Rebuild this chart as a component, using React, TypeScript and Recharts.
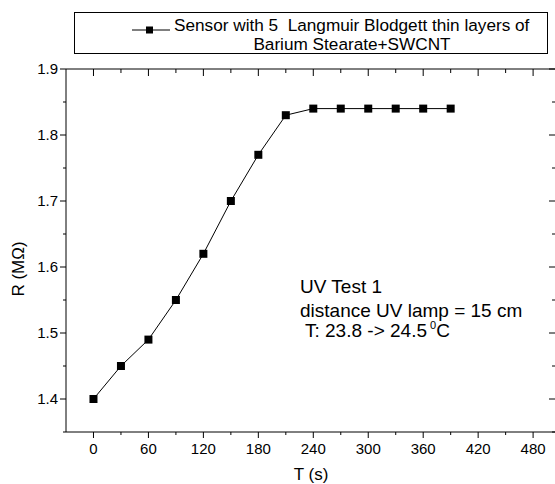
import { LineChart, Line, XAxis, YAxis, Legend, Customized } from 'recharts';

const timeS = [0, 30, 60, 90, 120, 150, 180, 210, 240, 270, 300, 330, 360, 390];
const resistanceM = [1.4, 1.45, 1.49, 1.55, 1.62, 1.7, 1.77, 1.83, 1.84, 1.84, 1.84, 1.84, 1.84, 1.84];
const xTicks = [0, 30, 60, 90, 120, 150, 180, 210, 240, 270, 300, 330, 360, 390, 420, 450, 480];
const yTicks = [1.35, 1.4, 1.45, 1.5, 1.55, 1.6, 1.65, 1.7, 1.75, 1.8, 1.85, 1.9];
const seriesName = 'Sensor with 5  Langmuir Blodgett thin layers of';
const seriesName2 = 'Barium Stearate+SWCNT';

const data = timeS.map((t, i) => ({ t, r: resistanceM[i] }));

const FONT = '"Liberation Sans", Arial, sans-serif';

// frame edges (from chart size and margins below)
const PLOT_TOP = 69;
const PLOT_RIGHT = 556;

const isMajorX = (v: number) => v % 60 === 0;
const isMajorY = (v: number) => Math.abs(v * 10 - Math.round(v * 10)) < 1e-6;

// bottom ticks point out, the mirrored ones on the top edge point in
function BottomTick({ x, y, payload }: any) {
  const major = isMajorX(payload.value);
  return (
    <g>
      <line x1={x} x2={x} y1={y} y2={y + (major ? 6 : 3)} stroke="#000" />
      <line x1={x} x2={x} y1={PLOT_TOP} y2={PLOT_TOP + (major ? 7 : 4)} stroke="#000" />
      {major && (
        <text x={x} y={y + 22} textAnchor="middle" fontSize={15} fontFamily={FONT} fill="#000">
          {payload.value}
        </text>
      )}
    </g>
  );
}

function LeftTick({ x, y, payload }: any) {
  const major = isMajorY(payload.value);
  return (
    <g>
      <line x1={x} x2={x - (major ? 6 : 3)} y1={y} y2={y} stroke="#000" />
      <line x1={PLOT_RIGHT} x2={PLOT_RIGHT - (major ? 7 : 4)} y1={y} y2={y} stroke="#000" />
      {major && (
        <text x={x - 8} y={y + 5} textAnchor="end" fontSize={15} fontFamily={FONT} fill="#000">
          {payload.value.toFixed(1)}
        </text>
      )}
    </g>
  );
}

function LegendBox() {
  return (
    <div
      style={{
        width: 472,
        height: 40,
        border: '1px solid #000',
        background: '#fff',
        fontFamily: FONT,
        fontSize: 17.2,
        color: '#000',
        position: 'relative',
      }}
    >
      <svg width={40} height={14} style={{ position: 'absolute', left: 57, top: 10 }}>
        <line x1={0} x2={38} y1={7} y2={7} stroke="#000" />
        <rect x={14} y={3.5} width={7} height={7} fill="#000" />
      </svg>
      <div style={{ position: 'absolute', left: 99, top: 3, whiteSpace: 'pre', lineHeight: '19px' }}>
        {seriesName}
      </div>
      <div style={{ position: 'absolute', left: 99, width: 356, top: 22, textAlign: 'center', lineHeight: '19px' }}>
        {seriesName2}
      </div>
    </div>
  );
}

function Notes() {
  return (
    <g fontFamily={FONT} fill="#000">
      <text x={300} y={293} fontSize={19}>UV Test 1</text>
      <text x={300} y={317} fontSize={19}>distance UV lamp = 15 cm</text>
      <text x={305} y={337} fontSize={19}>
        T: 23.8 -&gt; 24.5
        <tspan fontSize={11} dy={-8} dx={3}>0</tspan>
        <tspan dy={8}>C</tspan>
      </text>
      <text x={311} y={480} fontSize={17} textAnchor="middle">T (s)</text>
      <text x={18} y={269} fontSize={17} textAnchor="middle" transform="rotate(-90 18 269)" dy={6}>
        R (MΩ)
      </text>
    </g>
  );
}

export default function App() {
  return (
    <div
      style={{
        position: 'absolute',
        left: 0,
        top: 0,
        width: 555,
        height: 484,
        overflow: 'hidden',
        background: '#fff',
      }}
    >
      <LineChart width={557} height={484} data={data} margin={{ top: 68, right: 0, bottom: 0, left: 26 }}>
        <XAxis
          xAxisId="b"
          dataKey="t"
          type="number"
          domain={[-30, 505]}
          ticks={xTicks}
          interval={0}
          tickSize={0}
          tickMargin={0}
          height={52}
          axisLine={{ stroke: '#000' }}
          tick={BottomTick}
        />
        <XAxis
          xAxisId="t"
          orientation="top"
          dataKey="t"
          type="number"
          domain={[-30, 505]}
          height={1}
          axisLine={{ stroke: '#000' }}
          tick={false}
          tickLine={false}
        />
        <YAxis
          yAxisId="l"
          type="number"
          domain={[1.35, 1.9]}
          ticks={yTicks}
          interval={0}
          tickSize={0}
          tickMargin={0}
          width={40}
          axisLine={{ stroke: '#000' }}
          tick={LeftTick}
        />
        <YAxis
          yAxisId="r"
          orientation="right"
          type="number"
          domain={[1.35, 1.9]}
          width={1}
          axisLine={{ stroke: '#000' }}
          tick={false}
          tickLine={false}
        />
        <Legend
          layout="horizontal"
          verticalAlign="middle"
          align="center"
          content={() => <LegendBox />}
          wrapperStyle={{ position: 'absolute', top: 12, left: 74, width: 474 }}
        />
        <Line
          xAxisId="b"
          yAxisId="l"
          dataKey="r"
          name={seriesName}
          stroke="#000"
          strokeWidth={1}
          isAnimationActive={false}
          dot={(p: any) => (
            <rect key={p.index} x={p.cx - 4} y={p.cy - 4} width={8} height={8} fill="#000" />
          )}
        />
        <Customized component={Notes} />
      </LineChart>
    </div>
  );
}
